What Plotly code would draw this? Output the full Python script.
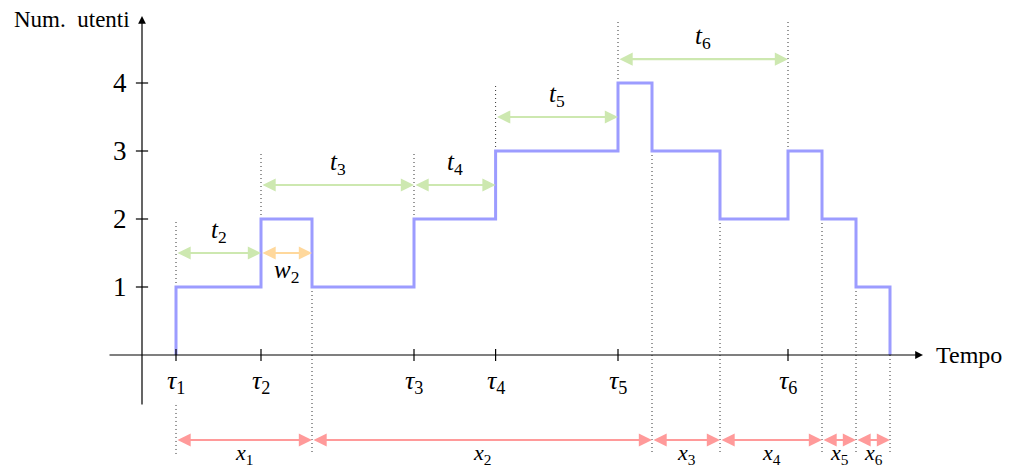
import plotly.graph_objects as go

# istanti di arrivo (tau) e di partenza
tau = [1, 3.5, 8, 10.4, 14, 19]
partenze = [5, 15, 17, 20, 21, 22]

# andamento a gradini del numero di utenti
istanti = [1, 1, 3.5, 5, 8, 10.4, 14, 15, 17, 19, 20, 21, 22]
utenti = [0, 1, 2, 1, 2, 3, 4, 3, 2, 3, 2, 1, 0]

# tratteggi verticali
liv_arrivo = [1, 2, 2, 3, 4, 3]
cima_arrivo = [2, 3, 3, 4, 4.9, 4.9]
liv_partenza = [1, 3, 2, 2, 1, 0]
fondo = -1.47

# tempi di interarrivo t2..t6
t_nomi = ['2', '3', '4', '5', '6']
t_quota = [1.5, 2.5, 2.5, 3.5, 4.35]

# tempo di attesa w2
w_da, w_a, w_quota = 3.5, 5, 1.5

# tempi di interpartenza x1..x6
x_bordi = [1, 5, 15, 17, 20, 21, 22]
x_quota = -1.25

y_tick = [1, 2, 3, 4]

VERDE = '#cde8b0'
ARANCIO = '#ffd89c'
ROSSO = '#ff9a9a'
BLU = '#9c9cff'
FONT = 'Liberation Serif'

fig = go.Figure()

# tratteggi
dx, dy = [], []
for x, a, b in zip(tau, liv_arrivo, cima_arrivo):
    dx += [x, x, None]
    dy += [a, b, None]
for x, a in zip(partenze, liv_partenza):
    dx += [x, x, None]
    dy += [a, fondo, None]
dx += [tau[0], tau[0]]
dy += [-0.735, fondo]
fig.add_trace(go.Scatter(x=dx, y=dy, mode='lines',
                         line=dict(color='#333', width=1, dash='1px,3px')))

fig.add_trace(go.Scatter(x=istanti, y=utenti, mode='lines', line_shape='hv',
                         line=dict(color=BLU, width=3)))

ann = []


def freccia(x0, x1, y, col, w=2.2):
    ann.append(dict(x=x1, y=y, ax=x0, ay=y, xref='x', yref='y', axref='x', ayref='y',
                    text='', showarrow=True, arrowcolor=col, arrowwidth=w,
                    arrowhead=2, arrowsize=1.2, arrowside='end+start',
                    startarrowhead=2, startarrowsize=1.2))


def testo(x, y, s, size=25, **kw):
    ann.append(dict(x=x, y=y, xref='x', yref='y', text=s, showarrow=False,
                    font=dict(family=FONT, size=size, color='black'), **kw))


# assi
ann.append(dict(x=22.97, y=0, ax=-1.0, ay=0, xref='x', yref='y', axref='x', ayref='y',
                text='', showarrow=True, arrowcolor='black', arrowwidth=1.2,
                arrowhead=2, arrowsize=1.3))
ann.append(dict(x=0, y=4.985, ax=0, ay=-0.75, xref='x', yref='y', axref='x', ayref='y',
                text='', showarrow=True, arrowcolor='black', arrowwidth=1.2,
                arrowhead=2, arrowsize=1.3))

shapes = []
for i, x in enumerate(tau):
    shapes.append(dict(type='line', xref='x', yref='y', x0=x, x1=x, y0=-0.09, y1=0.09,
                       line=dict(color='black', width=1.2)))
    testo(x, -0.4, '<i>τ</i><sub>%d</sub>' % (i + 1), size=26)
for v in y_tick:
    shapes.append(dict(type='line', xref='x', yref='y', x0=-0.18, x1=0.18, y0=v, y1=v,
                       line=dict(color='black', width=1.2)))
    testo(-0.65, v, str(v), size=27)

testo(-0.3, 4.93, 'Num.  utenti', size=23, xanchor='right')
testo(23.3, 0, 'Tempo', size=24, xanchor='left')

for i, n in enumerate(t_nomi):
    freccia(tau[i], tau[i + 1], t_quota[i], VERDE)
    testo((tau[i] + tau[i + 1]) / 2, t_quota[i] + 0.32, '<i>t</i><sub>%s</sub>' % n)

freccia(w_da, w_a, w_quota, ARANCIO)
testo((w_da + w_a) / 2, w_quota - 0.27, '<i>w</i><sub>2</sub>')

for i in range(len(x_bordi) - 1):
    freccia(x_bordi[i], x_bordi[i + 1], x_quota, ROSSO)
    testo((x_bordi[i] + x_bordi[i + 1]) / 2, -1.46, '<i>x</i><sub>%d</sub>' % (i + 1), size=22)

# la pagina ha 8px di margine: la figura parte da (8, 8)
fig.update_layout(
    width=1004, height=460,
    margin=dict(l=0, r=0, t=0, b=0),
    paper_bgcolor='white', plot_bgcolor='white',
    showlegend=False,
    xaxis=dict(range=[-134 / 34, 870 / 34], visible=False),
    yaxis=dict(range=[-113 / 68, 347 / 68], visible=False),
    annotations=ann,
    shapes=shapes,
)

fig.write_html("out.html")
